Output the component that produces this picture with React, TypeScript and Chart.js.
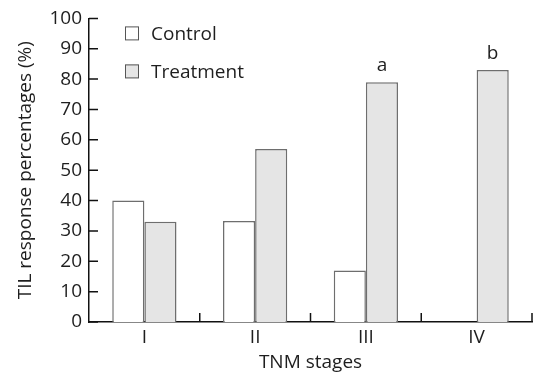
import React, { useEffect, useRef } from "react";
import { Chart, registerables } from "chart.js";

Chart.register(...registerables);

const categories = ["I", "II", "III", "IV"];
const controlValues = [40, 33.3, 17, 0];
const treatmentValues = [33, 57, 79, 83];
const treatmentMarks = ["", "", "a", "b"];
const yTickValues = [0, 10, 20, 30, 40, 50, 60, 70, 80, 90, 100];

const FONT = "'Open Sans', 'Noto Sans', sans-serif";
const FS = 19;
const TEXT = "#1e1e1e";
const AXIS = "#111111";

const tickMarksPlugin = {
  id: "tickMarks",
  afterDraw(chart: any) {
    const ctx = chart.ctx;
    const x = chart.scales.x;
    const y = chart.scales.y;
    const len = 9;
    ctx.save();
    ctx.strokeStyle = AXIS;
    ctx.lineWidth = 1.5;
    ctx.beginPath();
    yTickValues.forEach((v) => {
      const py = y.getPixelForValue(v);
      ctx.moveTo(x.left, py);
      ctx.lineTo(x.left + len, py);
    });
    const n = categories.length;
    for (let i = 1; i <= n; i++) {
      let px;
      if (i < n) {
        px = (x.getPixelForValue(i - 1) + x.getPixelForValue(i)) / 2;
      } else {
        px = x.getPixelForValue(n - 1) + (x.getPixelForValue(n - 1) - x.getPixelForValue(n - 2)) / 2;
      }
      ctx.moveTo(px, y.bottom);
      ctx.lineTo(px, y.bottom - len);
    }
    ctx.stroke();
    ctx.restore();
  },
};

const legendPlugin = {
  id: "insideLegend",
  afterDraw(chart: any) {
    const ctx = chart.ctx;
    const area = chart.chartArea;
    ctx.save();
    ctx.font = `${FS}px ${FONT}`;
    ctx.textBaseline = "middle";
    ctx.textAlign = "left";
    chart.data.datasets.forEach((ds: any, i: number) => {
      const bx = area.left + 36;
      const by = area.top + 8 + i * 38;
      ctx.fillStyle = ds.backgroundColor;
      ctx.fillRect(bx, by, 14, 14);
      ctx.strokeStyle = "#555555";
      ctx.lineWidth = 1;
      ctx.strokeRect(bx + 0.5, by + 0.5, 13, 13);
      ctx.fillStyle = TEXT;
      ctx.fillText(ds.label, bx + 26, by + 8);
    });
    ctx.restore();
  },
};

const marksPlugin = {
  id: "barMarks",
  afterDatasetsDraw(chart: any) {
    const ctx = chart.ctx;
    const meta = chart.getDatasetMeta(1);
    ctx.save();
    ctx.font = `${FS}px ${FONT}`;
    ctx.fillStyle = TEXT;
    ctx.textAlign = "center";
    ctx.textBaseline = "alphabetic";
    meta.data.forEach((bar: any, i: number) => {
      const m = treatmentMarks[i];
      if (m) ctx.fillText(m, bar.x, bar.y - 11);
    });
    ctx.restore();
  },
};

export default function App() {
  const ref = useRef<HTMLCanvasElement>(null);
  useEffect(() => {
    if (!ref.current) return;
    const chart = new Chart(ref.current, {
      type: "bar",
      data: {
        labels: categories,
        datasets: [
          {
            label: "Control",
            data: controlValues,
            backgroundColor: "#ffffff",
            borderColor: "#6e6e6e",
            borderWidth: 1.5,
            categoryPercentage: 0.58,
            barPercentage: 1,
          },
          {
            label: "Treatment",
            data: treatmentValues,
            backgroundColor: "#e5e5e5",
            borderColor: "#6e6e6e",
            borderWidth: 1.5,
            categoryPercentage: 0.58,
            barPercentage: 1,
          },
        ],
      },
      options: {
        responsive: false,
        animation: false,
        layout: { padding: { top: 15, right: 1, left: 0, bottom: 0 } },
        plugins: { legend: { display: false }, tooltip: { enabled: false } },
        scales: {
          x: {
            z: 1,
            grid: { display: false, drawTicks: false },
            border: { display: true, color: AXIS, width: 1.5 },
            ticks: { color: TEXT, font: { family: FONT, size: FS }, padding: 4 },
            title: {
              display: true,
              text: "TNM stages",
              color: TEXT,
              font: { family: FONT, size: FS },
              padding: { top: 0, bottom: 2 },
            },
            afterFit(scale: any) {
              scale.height = 54;
            },
          },
          y: {
            z: 1,
            min: 0,
            max: 100,
            afterBuildTicks(scale: any) {
              scale.ticks = yTickValues.map((v) => ({ value: v }));
            },
            grid: { display: false, drawTicks: false },
            border: { display: true, color: AXIS, width: 1.5 },
            ticks: { color: TEXT, font: { family: FONT, size: FS }, padding: 7 },
            title: {
              display: true,
              text: "TIL response percentages (%)",
              color: TEXT,
              font: { family: FONT, size: FS },
              padding: { top: 14, bottom: 0 },
            },
            afterFit(scale: any) {
              scale.width = 89;
            },
          },
        },
      },
      plugins: [marksPlugin, tickMarksPlugin, legendPlugin],
    });
    return () => chart.destroy();
  }, []);
  return (
    <div style={{ position: "absolute", left: 0, top: 0, width: 533, height: 376, background: "#fff" }}>
      <canvas ref={ref} width={533} height={376} style={{ width: 533, height: 376 }} />
    </div>
  );
}
